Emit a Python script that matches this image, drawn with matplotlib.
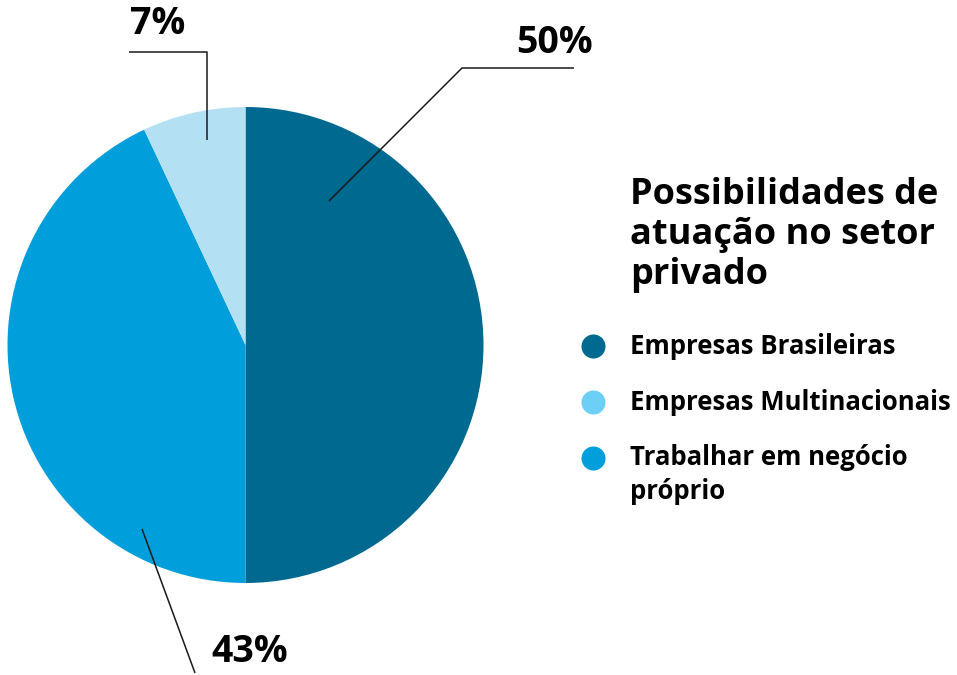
import matplotlib
matplotlib.use('Agg')
import matplotlib.pyplot as plt

plt.rcParams['font.family'] = ['Open Sans', 'DejaVu Sans']

categories = ['Empresas Brasileiras', 'Empresas Multinacionais',
              'Trabalhar em negócio\npróprio']
shares = [50, 7, 43]
slice_colors = ['#006990', '#b3e1f3', '#009fdb']
legend_colors = ['#006990', '#6dcff6', '#009fdb']
title = 'Possibilidades de\natuação no setor\nprivado'

# clockwise from 12 o'clock: Brasileiras, negócio próprio, Multinacionais
pie_order = [0, 2, 1]

W, H = 957, 675
fig = plt.figure(figsize=(W / 100, H / 100), dpi=100)
ax = fig.add_axes([0, 0, 1, 1])

cx, cy, r = 245.5, H - 345, 238
ax.pie([shares[i] for i in pie_order],
       colors=[slice_colors[i] for i in pie_order],
       startangle=90, counterclock=False, center=(cx, cy), radius=r,
       wedgeprops=dict(linewidth=0), frame=True)
ax.set_xlim(0, W)
ax.set_ylim(0, H)
ax.set_aspect('equal')
ax.axis('off')

# leader lines (pixel coords, y measured from top)
leaders = [
    [(329, 201), (462, 68), (574, 68)],
    [(207, 140), (207, 52), (129, 52)],
    [(142, 529), (195, 673)],
]
for pts in leaders:
    ax.plot([p[0] for p in pts], [H - p[1] for p in pts],
            color='#1a1a1a', lw=1.1, solid_capstyle='butt')

label_pos = {0: (555, 43), 1: (158, 24), 2: (250, 652)}
for i, (x, y) in label_pos.items():
    ax.text(x, H - y, f'{shares[i]}%', ha='center', va='center',
            fontsize=27, fontweight='bold', color='black')

ax.text(630, H - 177, title, ha='left', va='top', fontsize=26,
        fontweight='bold', color='black', linespacing=1.15)

leg_y = [346, 402, 458]
for i, y in enumerate(leg_y):
    ax.scatter([593], [H - y], s=300, color=legend_colors[i], linewidths=0)
    multi = '\n' in categories[i]
    ax.text(630, H - y + (14 if multi else 0), categories[i], ha='left',
            va='top' if multi else 'center',
            fontsize=18.5, fontweight='bold', color='black', linespacing=1.35)

fig.savefig('out.png', dpi=100)
